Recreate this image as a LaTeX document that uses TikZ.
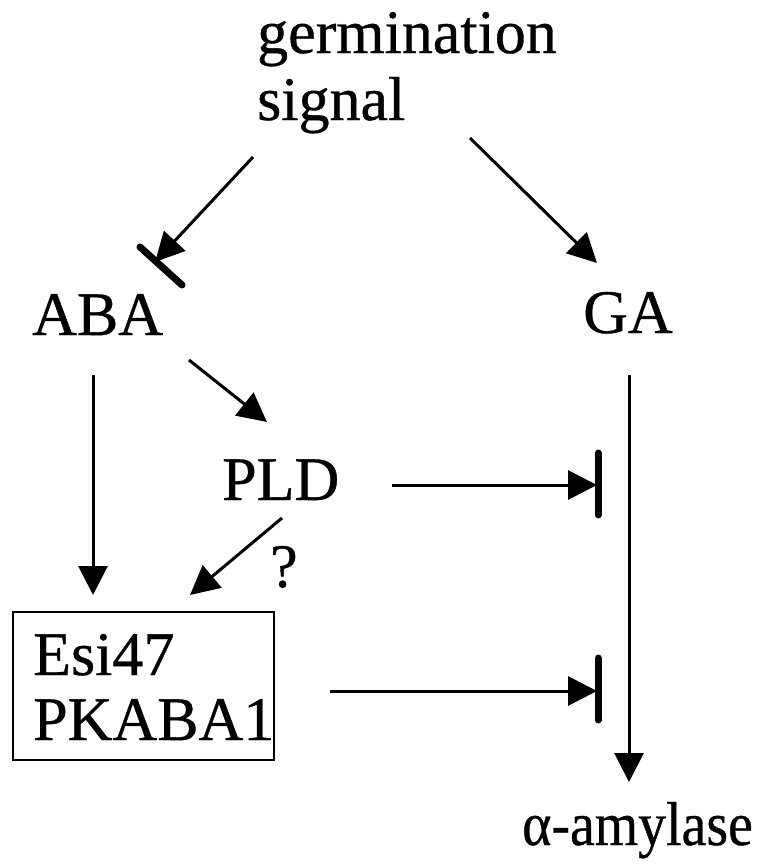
\documentclass[tikz,border=0pt]{standalone}
\usepackage{fontspec}
\setmainfont{Liberation Serif}
\newfontfamily\labelfont{Liberation Serif}[FakeBold=0.6]
\usetikzlibrary{arrows.meta}
\begin{document}
\begin{tikzpicture}[x=1pt,y=-1pt,
  lbl/.style={inner sep=0pt,anchor=base west,font=\labelfont\fontsize{62}{67}\selectfont},
  act/.style={line width=3pt,-{Triangle[length=29pt,width=29pt]}},
  blockbar/.style={line width=7pt,line cap=round},
  framebox/.style={draw,line width=2pt,inner sep=0pt,minimum width=261pt,minimum height=148pt}]
\useasboundingbox (0,0) rectangle (763,867);

% labels
\node[lbl] (germ) at (257,53) {germination};
\node[lbl] (sig) at (257,120) {signal};
\node[lbl] (aba) at (32,335) {ABA};
\node[lbl] (ga) at (583,333) {GA};
\node[lbl] (pld) at (222,500) {PLD};
\node[lbl] (q) at (270,587) {?};
\node[framebox] (box) at (143.5,686) {};
\node[lbl] (esi) at (33,675) {Esi47};
\node[lbl] (pk) at (33,740) {PKABA1};
\node[lbl] (amy) at (522,845) {\scalebox{0.9}[1]{α-amylase}};

% connector end points
\coordinate (sigL) at (253,157);
\coordinate (sigR) at (470,138);
\coordinate (abaIn) at (155,262);
\coordinate (abaBarA) at (140,247);
\coordinate (abaBarB) at (182,285);
\coordinate (gaIn) at (597,263);
\coordinate (abaDown) at (93,375);
\coordinate (boxTop) at (93,595);
\coordinate (abaOut) at (189,360);
\coordinate (pldIn) at (267,422);
\coordinate (pldR) at (392,485);
\coordinate (stopA) at (597,485);
\coordinate (stopAtop) at (598,453);
\coordinate (stopAbot) at (598,515);
\coordinate (pldOut) at (282,518);
\coordinate (boxIn) at (190,595);
\coordinate (boxR) at (330,691);
\coordinate (stopB) at (597,691);
\coordinate (stopBtop) at (598,658);
\coordinate (stopBbot) at (598,720);
\coordinate (gaDown) at (629,375);
\coordinate (amyIn) at (629,782);

% activating arrows
\draw[act] (sigL) -- (abaIn);
\draw[act] (sigR) -- (gaIn);
\draw[act] (abaDown) -- (boxTop);
\draw[act] (abaOut) -- (pldIn);
\draw[act] (pldR) -- (stopA);
\draw[act] (pldOut) -- (boxIn);
\draw[act] (boxR) -- (stopB);
\draw[act] (gaDown) -- (amyIn);

% blocking bars
\draw[blockbar] (abaBarA) -- (abaBarB);
\draw[blockbar] (stopAtop) -- (stopAbot);
\draw[blockbar] (stopBtop) -- (stopBbot);
\end{tikzpicture}
\end{document}
